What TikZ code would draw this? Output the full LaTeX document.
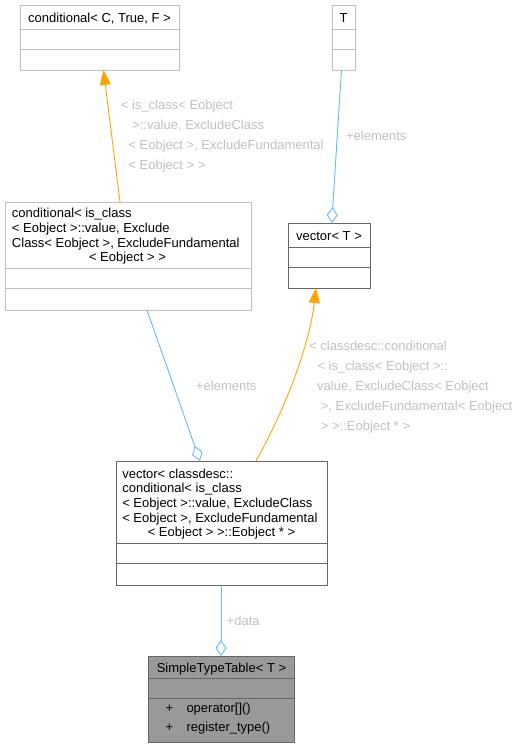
\documentclass[tikz,border=0pt]{standalone}
\usepackage{fontspec}
\setmainfont{Liberation Sans}
\usetikzlibrary{arrows.meta,calc}
\definecolor{bgrey}{RGB}{191,191,191}
\definecolor{dgrey}{RGB}{102,102,102}
\definecolor{sblue}{RGB}{99,184,255}
\definecolor{orng}{RGB}{255,165,0}
\definecolor{lblgrey}{RGB}{192,192,192}
\definecolor{fillgrey}{RGB}{153,153,153}
\begin{document}
\begin{tikzpicture}[x=1pt,y=-1pt,
  font=\fontsize{13}{14.7}\selectfont,
  ubox/.style={rectangle,inner sep=0pt,outer sep=0pt,line width=0.9pt,fill=white},
  lightbox/.style={ubox,draw=bgrey},
  darkbox/.style={ubox,draw=dgrey},
  txt/.style={inner sep=0pt,outer sep=0pt,anchor=base west},
  ctxt/.style={inner sep=0pt,outer sep=0pt,anchor=base},
  lbl/.style={txt,text=lblgrey},
  inh/.style={draw=orng,line width=0.9pt,-{Triangle[length=15pt,width=11pt,fill=orng]}},
  agg/.style={draw=sblue,line width=0.9pt,-{Diamond[open,length=16pt,width=11pt,line width=0.9pt]}}]
\useasboundingbox (0,0) rectangle (524,747);

% boxes
\node[lightbox,minimum width=159pt,minimum height=65pt] (A) at (99.5,37.5) {};
\draw[bgrey,line width=0.9pt] (A.west |- 0,29) -- (A.east |- 0,29) (A.west |- 0,49) -- (A.east |- 0,49);
\node[ctxt] (At) at (99.5,22) {conditional< C, True, F >};

\node[lightbox,minimum width=23pt,minimum height=65pt] (T) at (343.5,37.5) {};
\draw[bgrey,line width=0.9pt] (T.west |- 0,29) -- (T.east |- 0,29) (T.west |- 0,49) -- (T.east |- 0,49);
\node[ctxt] (Tt) at (343.5,22) {T};

\node[darkbox,minimum width=82pt,minimum height=65pt] (VT) at (329,255.5) {};
\draw[dgrey,line width=0.9pt] (VT.west |- 0,247) -- (VT.east |- 0,247) (VT.west |- 0,267) -- (VT.east |- 0,267);
\node[ctxt] (VTt) at (329,240.7) {vector< T >};

\node[lightbox,minimum width=246pt,minimum height=108pt] (B) at (128,256) {};
\draw[bgrey,line width=0.9pt] (B.west |- 0,268) -- (B.east |- 0,268) (B.west |- 0,288) -- (B.east |- 0,288);
\node[txt] (Bt1) at (12,217.5) {conditional< is\_class};
\node[txt] (Bt2) at (12,232.3) {< Eobject >::value, Exclude};
\node[txt] (Bt3) at (12,247.1) {Class< Eobject >, ExcludeFundamental};
\node[ctxt] (Bt4) at (127.5,261.9) {< Eobject > >};

\node[darkbox,minimum width=211pt,minimum height=124pt] (C) at (221.5,523) {};
\draw[dgrey,line width=0.9pt] (C.west |- 0,543) -- (C.east |- 0,543) (C.west |- 0,563) -- (C.east |- 0,563);
\node[txt] (Ct1) at (122.3,478.3) {vector< classdesc::};
\node[txt] (Ct2) at (122.3,492.9) {conditional< is\_class};
\node[txt] (Ct3) at (122.3,507.5) {< Eobject >::value, ExcludeClass};
\node[txt] (Ct4) at (122.3,522.1) {< Eobject >, ExcludeFundamental};
\node[ctxt] (Ct5) at (221.5,536.7) {< Eobject > >::Eobject * >};

\node[ubox,draw=dgrey,fill=fillgrey,minimum width=146pt,minimum height=86pt] (D) at (221,699) {};
\draw[dgrey,line width=0.9pt] (D.west |- 0,678) -- (D.east |- 0,678) (D.west |- 0,698) -- (D.east |- 0,698);
\node[ctxt] (Dt) at (221.5,672.7) {SimpleTypeTable< T >};
\node[txt] (Dp1) at (165.5,712.7) {+};
\node[txt] (Dm1) at (186.5,712.7) {operator[]()};
\node[txt] (Dp2) at (165.5,731.4) {+};
\node[txt] (Dm2) at (186.5,731.4) {register\_type()};

% connectors
\draw[inh] ([xshift=-8pt]B.north) -- ([xshift=4pt]A.south);
\draw[agg] ([xshift=-2pt]T.south) -- ([xshift=2.7pt]VT.north);
\draw[agg] ([xshift=19pt]B.south) -- ([xshift=-21.5pt]C.north);
\draw[inh] ([xshift=34.5pt]C.north) .. controls (290,400) and (310,340) .. ([xshift=-13pt]VT.south);
\draw[agg] (C.south -| D.north) -- (D.north);

% labels
\node[lbl] (L1a) at (120.9,109.7) {< is\_class< Eobject};
\node[lbl] (L1b) at (132.2,129.7) {>::value, ExcludeClass};
\node[lbl] (L1c) at (128.5,149.7) {< Eobject >, ExcludeFundamental};
\node[lbl] (L1d) at (128.5,169.7) {< Eobject > >};
\node[lbl] (L2) at (346.1,140.7) {+elements};
\node[lbl] (L3) at (196.1,390.4) {+elements};
\node[lbl] (L4a) at (309.2,350.4) {< classdesc::conditional};
\node[lbl] (L4b) at (317.5,370.4) {< is\_class< Eobject >::};
\node[lbl] (L4c) at (317.2,390.4) {value, ExcludeClass< Eobject};
\node[lbl] (L4d) at (320.9,410.4) {>, ExcludeFundamental< Eobject};
\node[lbl] (L4e) at (320.9,430.4) {> >::Eobject * >};
\node[lbl] (L5) at (226.7,625.4) {+data};
\end{tikzpicture}
\end{document}
